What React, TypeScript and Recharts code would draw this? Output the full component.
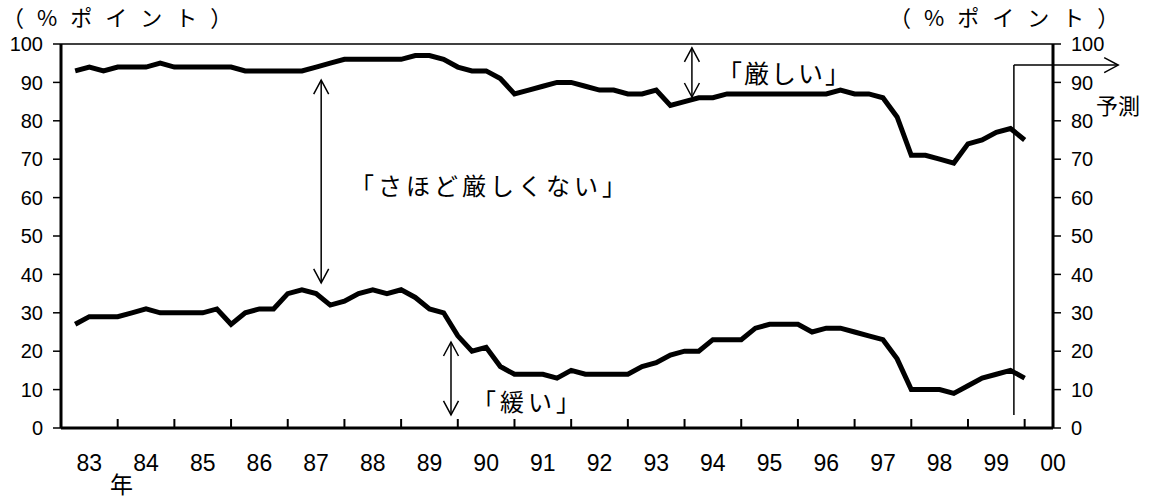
import React from "react";
import {
  LineChart,
  Line,
  XAxis,
  YAxis,
  ReferenceLine,
} from "recharts";

// quarterly survey, 1983 Q1 .. 1999 Q4
const years = [83, 84, 85, 86, 87, 88, 89, 90, 91, 92, 93, 94, 95, 96, 97, 98, 99];
const quarters = [1, 2, 3, 4];

// 「厳しい」 share (%)
const strict = [
  93, 94, 93, 94, 94, 94, 95, 94, 94, 94, 94, 94, 93, 93, 93, 93,
  93, 94, 95, 96, 96, 96, 96, 96, 97, 97, 96, 94, 93, 93, 91, 87,
  88, 89, 90, 90, 89, 88, 88, 87, 87, 88, 84, 85, 86, 86, 87, 87,
  87, 87, 87, 87, 87, 87, 88, 87, 87, 86, 81, 71, 71, 70, 69, 74,
  75, 77, 78, 75,
];

// 「緩い」 share (%)
const lenient = [
  27, 29, 29, 29, 30, 31, 30, 30, 30, 30, 31, 27, 30, 31, 31, 35,
  36, 35, 32, 33, 35, 36, 35, 36, 34, 31, 30, 24, 20, 21, 16, 14,
  14, 14, 13, 15, 14, 14, 14, 14, 16, 17, 19, 20, 20, 23, 23, 23,
  26, 27, 27, 27, 25, 26, 26, 25, 24, 23, 18, 10, 10, 10, 9, 11,
  13, 14, 15, 13,
];

const yearLabels = ["83", "84", "85", "86", "87", "88", "89", "90", "91", "92", "93", "94", "95", "96", "97", "98", "99", "00"];
const yTicks = [0, 10, 20, 30, 40, 50, 60, 70, 80, 90, 100];

const data = years.flatMap((y, yi) =>
  quarters.map((q, qi) => {
    const i = yi * 4 + qi;
    return { t: y + q / 4, strict: strict[i], lenient: lenient[i] };
  })
);

// year boundaries get a tick mark, mid-years get the label
const boundaryTicks = yearLabels.slice(1).map((_, k) => 84 + k);
const labelTicks = yearLabels.map((_, k) => 83.5 + k);
const xTicks = [...boundaryTicks, ...labelTicks];

const FONT = "'Liberation Sans', Arial, 'Noto Sans CJK JP', sans-serif";
const JP = "'Noto Sans CJK JP', 'Liberation Sans', sans-serif";

function XTick(props: any) {
  const { x, y, payload } = props;
  const v = payload.value as number;
  if (Number.isInteger(v)) {
    return <line x1={x} x2={x} y1={y} y2={y - 9} stroke="#000" strokeWidth={2} />;
  }
  const label = yearLabels[Math.floor(v) - 83];
  return (
    <text x={x} y={y + 43} textAnchor="middle" fontSize={23} fontFamily={FONT} fill="#000">
      {label}
    </text>
  );
}

function headPath(x: number, y: number, dx: number, dy: number) {
  // open V arrowhead at (x, y) pointing along (dx, dy)
  const len = Math.hypot(dx, dy) || 1;
  const ux = dx / len;
  const uy = dy / len;
  const L = 14;
  const W = 7.5;
  const bx = x - ux * L;
  const by = y - uy * L;
  return `M${bx - uy * W},${by + ux * W}L${x},${y}L${bx + uy * W},${by - ux * W}`;
}

function makeArrow(startHead: boolean, endHead: boolean) {
  return (props: any) => {
    const { x1, y1, x2, y2 } = props;
    return (
      <g>
        <line x1={x1} y1={y1} x2={x2} y2={y2} stroke="#000" strokeWidth={1.5} />
        {startHead && (
          <path d={headPath(x1, y1, x1 - x2, y1 - y2)} fill="none" stroke="#000" strokeWidth={1.5} />
        )}
        {endHead && (
          <path d={headPath(x2, y2, x2 - x1, y2 - y1)} fill="none" stroke="#000" strokeWidth={1.5} />
        )}
      </g>
    );
  };
}

const doubleArrow = makeArrow(true, true);
const endArrow = makeArrow(false, true);
const plainLine = makeArrow(false, false);

function Label({ text, left, cy, size, spacing = 0, family = JP }: any) {
  return (
    <div
      style={{
        position: "absolute",
        left,
        top: cy - size / 2,
        height: size,
        fontSize: size,
        lineHeight: `${size}px`,
        letterSpacing: spacing,
        fontFamily: family,
        whiteSpace: "nowrap",
        color: "#000",
      }}
    >
      {text}
    </div>
  );
}

const yTickStyle = { fill: "#000", fontSize: 20, fontFamily: FONT };

export default function App() {
  return (
    <div style={{ position: "absolute", left: 0, top: 0, width: 1152, height: 498, background: "#fff" }}>
      <LineChart
        width={1152}
        height={498}
        data={data}
        margin={{ top: 44, right: 39, bottom: 0, left: 0 }}
      >
        <XAxis
          dataKey="t"
          type="number"
          domain={[83, 100.5]}
          ticks={xTicks}
          interval={0}
          height={70}
          tickSize={0}
          tickMargin={0}
          tickLine={false}
          tick={<XTick />}
          axisLine={{ stroke: "#000", strokeWidth: 3 }}
          allowDataOverflow
        />
        <YAxis
          yAxisId="left"
          orientation="left"
          width={61}
          domain={[0, 100]}
          ticks={yTicks}
          interval={0}
          tickSize={8}
          tickMargin={10}
          tick={yTickStyle}
          tickLine={{ stroke: "#000", strokeWidth: 1.5 }}
          axisLine={{ stroke: "#000", strokeWidth: 3 }}
        />
        <YAxis
          yAxisId="right"
          orientation="right"
          width={60}
          domain={[0, 100]}
          ticks={yTicks}
          interval={0}
          tickSize={8}
          tickMargin={10}
          tick={yTickStyle}
          tickLine={{ stroke: "#000", strokeWidth: 1.5 }}
          axisLine={{ stroke: "#000", strokeWidth: 3 }}
        />
        <ReferenceLine yAxisId="left" y={100} stroke="#000" strokeWidth={1.5} />
        {/* invisible copy so the right axis has a series bound to it */}
        <Line
          yAxisId="right"
          type="linear"
          dataKey="strict"
          stroke="none"
          strokeOpacity={0}
          dot={false}
          activeDot={false}
          isAnimationActive={false}
        />
        <Line
          yAxisId="left"
          type="linear"
          dataKey="strict"
          stroke="#000"
          strokeWidth={5}
          dot={false}
          isAnimationActive={false}
        />
        <Line
          yAxisId="left"
          type="linear"
          dataKey="lenient"
          stroke="#000"
          strokeWidth={5}
          dot={false}
          isAnimationActive={false}
        />
        {/* annotation arrows */}
        <ReferenceLine
          yAxisId="left"
          segment={[{ x: 87.59, y: 90.6 }, { x: 87.59, y: 37.8 }]}
          shape={doubleArrow}
          ifOverflow="visible"
        />
        <ReferenceLine
          yAxisId="left"
          segment={[{ x: 94.13, y: 99.0 }, { x: 94.13, y: 86.2 }]}
          shape={doubleArrow}
          ifOverflow="visible"
        />
        <ReferenceLine
          yAxisId="left"
          segment={[{ x: 89.88, y: 22.4 }, { x: 89.88, y: 3.4 }]}
          shape={doubleArrow}
          ifOverflow="visible"
        />
        {/* forecast marker */}
        <ReferenceLine
          yAxisId="left"
          segment={[{ x: 99.81, y: 3.4 }, { x: 99.81, y: 94.5 }]}
          shape={plainLine}
          ifOverflow="visible"
        />
        <ReferenceLine
          yAxisId="left"
          segment={[{ x: 99.81, y: 94.5 }, { x: 101.65, y: 94.5 }]}
          shape={endArrow}
          ifOverflow="visible"
        />
      </LineChart>

      <Label text="（%ポイント）" left={2} cy={16} size={22} spacing={13} />
      <Label text="（%ポイント）" left={889} cy={16} size={22} spacing={13} />
      <Label text="「厳しい」" left={717} cy={72} size={25} spacing={2} />
      <Label text="「さほど厳しくない」" left={350} cy={185} size={24} spacing={4} />
      <Label text="「緩い」" left={472} cy={401} size={24} spacing={4} />
      <Label text="予測" left={1096} cy={104} size={22} />
      <Label text="年" left={110} cy={483} size={23} />
    </div>
  );
}
